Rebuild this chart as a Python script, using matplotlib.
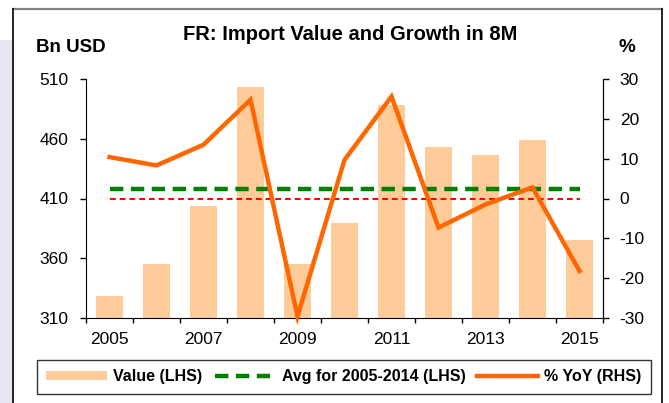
import matplotlib
matplotlib.use('Agg')
import matplotlib.pyplot as plt
from matplotlib.patches import Rectangle
from matplotlib.lines import Line2D

plt.rcParams['font.family'] = ['Liberation Sans', 'DejaVu Sans']
plt.rcParams['axes.unicode_minus'] = False

# data
years = ['2005', '2006', '2007', '2008', '2009', '2010', '2011', '2012', '2013', '2014', '2015']
value_bn = [328.0, 355.6, 403.6, 503.6, 355.3, 389.4, 488.6, 452.8, 446.1, 458.6, 375.3]
yoy_pct = [10.4, 8.3, 13.5, 24.8, -29.6, 9.7, 25.6, -7.3, -1.5, 2.8, -18.2]
avg_0514 = [418.2] * len(years)
zero_line = [0] * len(years)

left_ticks = [310, 360, 410, 460, 510]
right_ticks = [-30, -20, -10, 0, 10, 20, 30]

fig = plt.figure(figsize=(6.69, 4.03), dpi=100)
fig.patch.set_facecolor('white')

# watermark-ish strip on the left and the outer frame
fig.patches.append(Rectangle((0, 0), 13 / 669, 1 - 40 / 403, transform=fig.transFigure,
                             facecolor='#e6e6f0', edgecolor='none', zorder=0))
fx0, fx1, fy = 13 / 669, 662 / 669, 1 - 9 / 403
fig.add_artist(Line2D([fx0, fx1], [fy, fy], color='#808080', lw=1.6, transform=fig.transFigure))
fig.add_artist(Line2D([fx0, fx0], [0, fy], color='black', lw=1.2, transform=fig.transFigure))
fig.add_artist(Line2D([fx1, fx1], [0, fy], color='black', lw=1.2, transform=fig.transFigure))

ax = fig.add_axes([86 / 669, 1 - 318 / 403, (603 - 86) / 669, (318 - 79) / 403])
ax2 = ax.twinx()

x = list(range(len(years)))
bars = ax.bar(x, value_bn, width=0.57, color='#ffcc99', zorder=1, label='Value (LHS)')
avg, = ax.plot(x, avg_0514, color='#008000', lw=3.2, dashes=(3.0, 1.7), zorder=3,
               label='Avg for 2005-2014 (LHS)')
ax.set_ylim(310, 510)
ax.set_yticks(left_ticks)
ax.set_xlim(-0.5, len(years) - 0.5)

ax2.plot(x, zero_line, color='#ff0000', lw=1.4, dashes=(3, 2), zorder=2)
yoy, = ax2.plot(x, yoy_pct, color='#ff6600', lw=3.2, zorder=4, clip_on=False,
                solid_joinstyle='miter', label='% YoY (RHS)')
ax2.set_ylim(-30, 30)
ax2.set_yticks(right_ticks)

# category axis: tick marks between years, labels on every other year
ax.set_xticks([i - 0.5 for i in range(len(years) + 1)])
ax.set_xticklabels([])
ax.set_xticks(x[::2], minor=True)
ax.set_xticklabels(years[::2], minor=True)
ax.tick_params(axis='x', which='major', direction='out', length=3.7, width=1)
ax.tick_params(axis='x', which='minor', length=0, pad=10, labelsize=12.5)
ax.tick_params(axis='y', direction='out', length=4.5, width=1, pad=8, labelsize=12.5)
ax2.tick_params(axis='y', direction='out', length=4.5, width=1, pad=7.5, labelsize=12.5)

for a in (ax, ax2):
    a.spines['top'].set_visible(False)
    a.patch.set_visible(False)
ax2.spines['left'].set_visible(False)
ax2.spines['bottom'].set_visible(False)

fig.text(350 / 669, 1 - 35 / 403, 'FR: Import Value and Growth in 8M', ha='center', va='center',
         fontsize=14.5, fontweight='bold')
fig.text(36 / 669, 1 - 48 / 403, 'Bn USD', ha='left', va='center', fontsize=13.5, fontweight='bold')
fig.text(627 / 669, 1 - 48 / 403, '%', ha='center', va='center', fontsize=13.5, fontweight='bold')

leg = fig.legend([bars, avg, yoy], ['Value (LHS)', 'Avg for 2005-2014 (LHS)', '% YoY (RHS)'],
                 loc='center', bbox_to_anchor=(344 / 669, 1 - 377 / 403), ncol=3,
                 prop={'weight': 'bold', 'size': 11.5}, frameon=True, fancybox=False,
                 handlelength=3.8, handletextpad=0.4, columnspacing=0.75, borderpad=0.6,
                 handleheight=0.5)
leg.get_frame().set_edgecolor('black')
leg.get_frame().set_linewidth(1.0)

fig.savefig('out.png', dpi=100)
